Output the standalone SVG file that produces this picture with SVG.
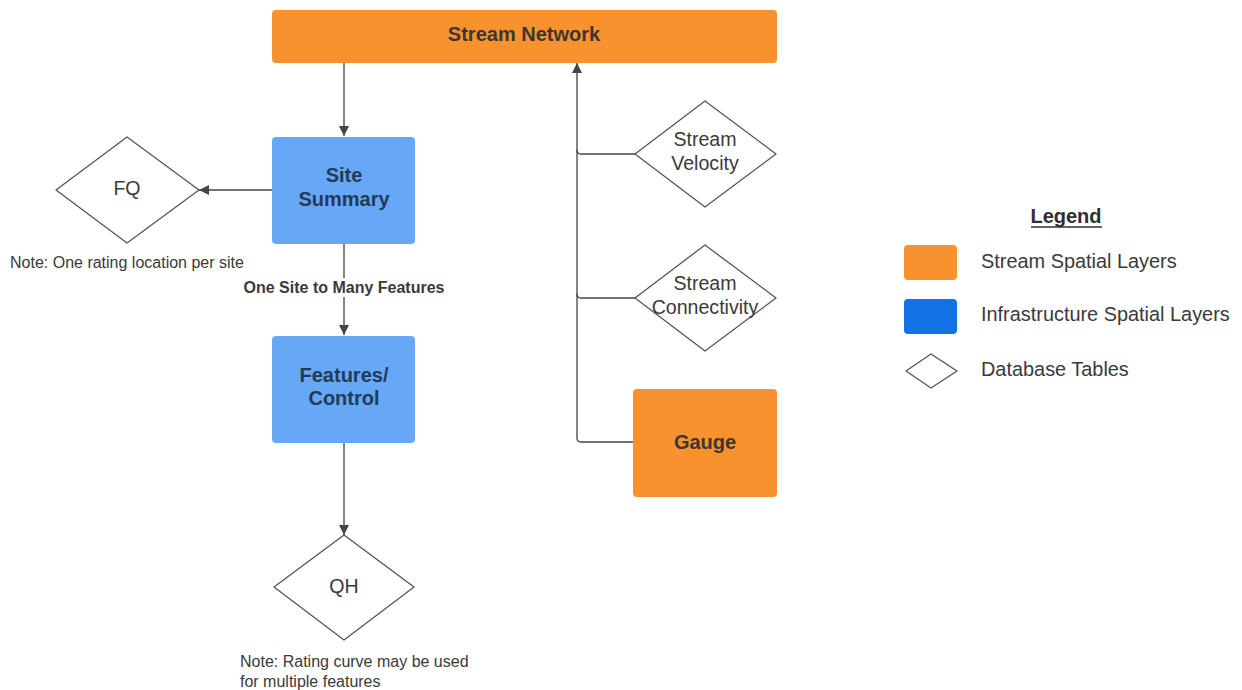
<svg xmlns="http://www.w3.org/2000/svg" width="1242" height="690" viewBox="0 0 1242 690">
<style>
.orange{fill:#f7922f;}
.blue{fill:#66a8f6;}
.dia{fill:#ffffff;stroke:#555555;stroke-width:1.3;stroke-linejoin:round;}
.bt{font-family:"Liberation Sans",Arial,sans-serif;font-weight:bold;font-size:20px;text-anchor:middle;}
.bo{fill:#3d3630;}
.bb{fill:#233a58;}
.dt{font-family:"Liberation Sans",Arial,sans-serif;font-size:19.6px;fill:#3a3a3a;text-anchor:middle;}
.note{font-family:"Liberation Sans",Arial,sans-serif;font-size:16px;fill:#3a3a3a;}
.lg{font-family:"Liberation Sans",Arial,sans-serif;font-size:19.9px;fill:#3a3a3a;}
.line{fill:none;stroke:#444444;stroke-width:1.3;}
</style>
<defs>
<marker id="arr" viewBox="0 0 10 10" refX="10" refY="5" markerWidth="10" markerHeight="10" markerUnits="userSpaceOnUse" orient="auto">
<path d="M0,0 L10,5 L0,10 z" fill="#444444"/>
</marker>
</defs>
<rect width="1242" height="690" fill="#ffffff"/>
<g id="connectors">
<path class="line" d="M344,63 V136" marker-end="url(#arr)"/>
<path class="line" d="M272,190 H199" marker-end="url(#arr)"/>
<path class="line" d="M344,244 V335" marker-end="url(#arr)"/>
<path class="line" d="M344,443 V535" marker-end="url(#arr)"/>
<path class="line" d="M633,442 H581 Q577,442 577,438 V63" marker-end="url(#arr)"/>
<path class="line" d="M635,154 H581 Q577,154 577,150"/>
<path class="line" d="M635,298 H581 Q577,298 577,294"/>
<g id="label-one-site">
<rect x="242" y="278" width="204" height="19" fill="#ffffff"/>
<text class="note" x="344" y="293" text-anchor="middle" font-weight="bold" fill="#2a2a2a">One Site to Many Features</text>
</g>
</g>
<g id="stream-network">
<rect class="orange" x="272" y="10" width="505" height="53" rx="4"/>
<text class="bt bo" x="524" y="41">Stream Network</text>
</g>
<g id="site-summary">
<rect class="blue" x="272" y="137" width="143" height="107" rx="4"/>
<text class="bt bb" x="344" y="182">Site</text>
<text class="bt bb" x="344" y="206">Summary</text>
</g>
<g id="fq">
<path class="dia" d="M127,137 L199,190 L127,243 L56,190 Z"/>
<text class="dt" x="127" y="195">FQ</text>
</g>
<g id="note-fq">
<text class="note" x="10" y="268">Note: One rating location per site</text>
</g>
<g id="features-control">
<rect class="blue" x="272" y="336" width="143" height="107" rx="4"/>
<text class="bt bb" x="344" y="382">Features/</text>
<text class="bt bb" x="344" y="405">Control</text>
</g>
<g id="qh">
<path class="dia" d="M344,535 L414,587 L344,640 L274,587 Z"/>
<text class="dt" x="344" y="593">QH</text>
</g>
<g id="note-qh">
<text class="note" x="240" y="667">Note: Rating curve may be used</text>
<text class="note" x="240" y="687">for multiple features</text>
</g>
<g id="stream-velocity">
<path class="dia" d="M705,101 L776,154 L705,207 L635,154 Z"/>
<text class="dt" x="705" y="146">Stream</text>
<text class="dt" x="705" y="170">Velocity</text>
</g>
<g id="stream-connectivity">
<path class="dia" d="M705,245 L776,298 L705,351 L635,298 Z"/>
<text class="dt" x="705" y="290">Stream</text>
<text class="dt" x="705" y="314">Connectivity</text>
</g>
<g id="gauge">
<rect class="orange" x="633" y="389" width="144" height="108" rx="4"/>
<text class="bt bo" x="705" y="449">Gauge</text>
</g>
<g id="legend">
<text class="bt" x="1066" y="223" fill="#2f2f2f">Legend</text>
<line x1="1031" y1="227" x2="1102" y2="227" stroke="#2f2f2f" stroke-width="1.6"/>
<rect class="orange" x="904" y="245" width="53" height="35" rx="4"/>
<text class="lg" x="981" y="268">Stream Spatial Layers</text>
<rect x="904" y="299" width="53" height="35" rx="4" fill="#1172e6"/>
<text class="lg" x="981" y="321">Infrastructure Spatial Layers</text>
<path class="dia" d="M931,354 L957,371 L931,388 L906,371 Z"/>
<text class="lg" x="981" y="376">Database Tables</text>
</g>
</svg>
